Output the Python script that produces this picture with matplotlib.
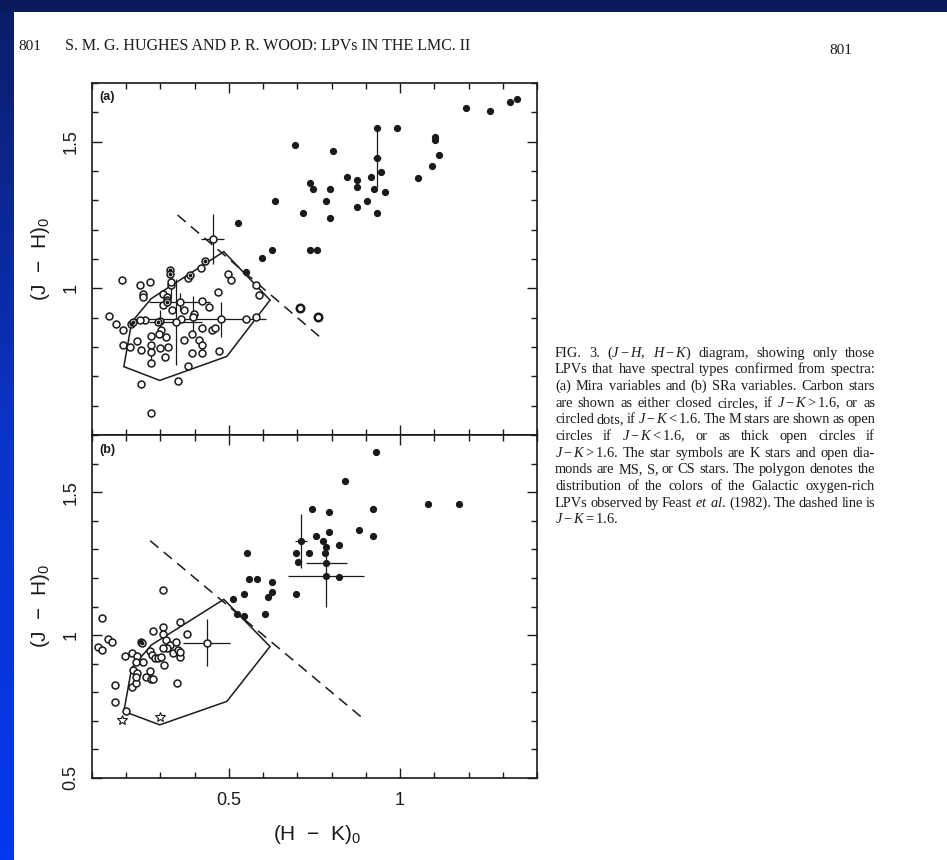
import numpy as np
import matplotlib
matplotlib.use("Agg")
import matplotlib.pyplot as plt
from matplotlib.colors import LinearSegmentedColormap
from matplotlib.patches import Polygon, Rectangle
from matplotlib.ticker import FixedLocator, MultipleLocator

plt.rcParams.update({
    "font.family": ["Liberation Sans", "DejaVu Sans"],
    "mathtext.fontset": "custom",
    "mathtext.rm": "Liberation Serif",
    "mathtext.it": "Liberation Serif:italic",
    "mathtext.sf": "Liberation Sans",
})

W, H = 947, 860
ink = "#1a1a1a"

# ---- panel (a): Mira variables ----
a_open_hk = [0.188, 0.240, 0.269, 0.249, 0.249, 0.306, 0.319, 0.319, 0.332, 0.379,
             0.419, 0.468, 0.497, 0.507, 0.579, 0.588, 0.150, 0.171, 0.190, 0.191,
             0.210, 0.232, 0.242, 0.271, 0.271, 0.272, 0.242, 0.272, 0.351, 0.381,
             0.312, 0.300, 0.317, 0.322, 0.303, 0.295, 0.370, 0.370, 0.393, 0.422,
             0.392, 0.414, 0.422, 0.422, 0.441, 0.451, 0.460, 0.470, 0.421, 0.399,
             0.361, 0.254, 0.240, 0.306, 0.335, 0.550, 0.579]
a_open_jh = [1.030, 1.013, 1.020, 0.982, 0.971, 0.982, 0.971, 0.959, 1.011, 1.035,
             1.068, 0.988, 1.050, 1.028, 1.011, 0.976, 0.907, 0.877, 0.857, 0.808,
             0.800, 0.819, 0.789, 0.837, 0.806, 0.745, 0.675, 0.575, 0.684, 0.735,
             0.766, 0.798, 0.834, 0.800, 0.857, 0.846, 0.925, 0.825, 0.778, 0.778,
             0.846, 0.823, 0.806, 0.865, 0.937, 0.857, 0.865, 0.786, 0.956, 0.914,
             0.897, 0.891, 0.893, 0.942, 0.925, 0.895, 0.902]
a_dot_hk = [0.327, 0.329, 0.431, 0.385, 0.213, 0.220, 0.293, 0.319]
a_dot_jh = [1.062, 1.050, 1.094, 1.045, 0.880, 0.885, 0.885, 0.954]
a_closed_hk = [0.693, 1.194, 1.263, 1.322, 1.341, 0.992, 1.102, 1.102, 1.115, 1.094,
               1.053, 0.804, 0.736, 0.745, 0.716, 0.785, 0.796, 0.796, 0.844, 0.874,
               0.874, 0.875, 0.903, 0.914, 0.924, 0.944, 0.955, 0.934, 0.736, 0.757,
               0.636, 0.526, 0.626, 0.596, 0.550, 0.933]
a_closed_jh = [1.488, 1.616, 1.604, 1.634, 1.644, 1.545, 1.517, 1.505, 1.455, 1.417,
               1.377, 1.468, 1.360, 1.338, 1.257, 1.297, 1.338, 1.239, 1.378, 1.368,
               1.346, 1.277, 1.297, 1.378, 1.337, 1.397, 1.327, 1.256, 1.129, 1.129,
               1.298, 1.222, 1.130, 1.102, 1.056, 1.545]
a_thick_hk = [0.707, 0.759]
a_thick_jh = [0.934, 0.903]
# error bars: open-circle stars, then one carbon star
a_err_hk = [0.477, 0.344, 0.356, 0.332, 0.394, 0.273, 0.298, 0.453]
a_err_jh = [0.895, 0.885, 0.954, 1.020, 0.903, 0.782, 0.888, 1.167]
a_err_xlo = [0.258, 0.077, 0.090, 0.0, 0.0, 0.0, 0.0, 0.034]
a_err_xhi = [0.131, 0.077, 0.090, 0.0, 0.0, 0.0, 0.0, 0.034]
a_err_y = [0.060, 0.148, 0.030, 0.054, 0.070, 0.030, 0.037, 0.085]
a_cerr_hk = [0.933]
a_cerr_jh = [1.446]
a_cerr_x = [0.012]
a_cerr_y = [0.100]

# ---- panel (b): SRa variables ----
b_open_hk = [0.307, 0.128, 0.147, 0.157, 0.118, 0.128, 0.196, 0.218, 0.230, 0.228,
             0.220, 0.230, 0.249, 0.167, 0.167, 0.199, 0.218, 0.228, 0.228, 0.259,
             0.271, 0.278, 0.269, 0.269, 0.278, 0.307, 0.307, 0.356, 0.377, 0.317,
             0.327, 0.319, 0.346, 0.306, 0.336, 0.351, 0.358, 0.356, 0.274, 0.283,
             0.293, 0.303, 0.309, 0.348]
b_open_jh = [1.158, 1.059, 0.987, 0.977, 0.960, 0.948, 0.927, 0.939, 0.927, 0.907,
             0.878, 0.867, 0.907, 0.826, 0.765, 0.736, 0.820, 0.832, 0.855, 0.855,
             0.846, 0.846, 0.876, 0.946, 1.016, 1.027, 1.004, 1.045, 1.004, 0.983,
             0.966, 0.954, 0.977, 0.954, 0.939, 0.948, 0.925, 0.942, 0.931, 0.919,
             0.919, 0.925, 0.895, 0.834]
b_dot_hk = [0.244, 0.247]
b_dot_jh = [0.977, 0.972]
b_closed_hk = [0.929, 0.840, 1.081, 1.172, 0.742, 0.792, 0.920, 0.881, 0.922, 0.792,
               0.753, 0.774, 0.784, 0.823, 0.695, 0.734, 0.780, 0.703, 0.823, 0.559,
               0.583, 0.625, 0.625, 0.615, 0.695, 0.605, 0.553, 0.544, 0.513, 0.525,
               0.545]
b_closed_jh = [1.640, 1.540, 1.459, 1.459, 1.441, 1.432, 1.440, 1.368, 1.346, 1.359,
               1.348, 1.329, 1.307, 1.315, 1.286, 1.286, 1.286, 1.255, 1.202, 1.195,
               1.195, 1.184, 1.152, 1.134, 1.144, 1.073, 1.287, 1.144, 1.127, 1.073,
               1.066]
b_star_hk = [0.188, 0.300]
b_star_jh = [0.703, 0.715]
b_err_hk = [0.435]
b_err_jh = [0.974]
b_err_x = [0.069]
b_err_y = [0.082]
b_cerr_hk = [0.710, 0.784, 0.784]
b_cerr_jh = [1.329, 1.252, 1.208]
b_cerr_x = [0.017, 0.060, 0.110]
b_cerr_y = [0.095, 0.0, 0.108]

# Galactic oxygen-rich LPV region (Feast et al. 1982)
poly_hk = [0.193, 0.216, 0.273, 0.485, 0.620, 0.494, 0.298]
poly_jh = [0.733, 0.885, 0.965, 1.125, 0.960, 0.768, 0.686]
# J - K = 1.6 line, drawn over this H - K range in each panel
dash_a_hk = np.array([0.35, 0.77])
dash_b_hk = np.array([0.27, 0.90])

caption = [
    "FIG. 3. ($J-H$, $H-K$) diagram, showing only those",
    "LPVs that have spectral types confirmed from spectra:",
    "(a) Mira variables and (b) SRa variables. Carbon stars",
    "are shown as either closed circles, if $J-K>1.6$, or as",
    "circled dots, if $J-K<1.6$. The M stars are shown as open",
    "circles if $J-K<1.6$, or as thick open circles if",
    "$J-K>1.6$. The star symbols are K stars and open dia-",
    "monds are MS, S, or CS stars. The polygon denotes the",
    "distribution of the colors of the Galactic oxygen-rich",
    "LPVs observed by Feast $et$ $al.$ (1982). The dashed line is",
    "$J-K=1.6$.",
]


def fx(px):
    return px / W


def fy(py):
    return 1 - py / H


fig = plt.figure(figsize=(W / 100, H / 100), dpi=100, facecolor="white")

# blue slide frame: left strip with a gradient and a dark bar on top
strip = fig.add_axes([0, 0, fx(13), 1])
slide_cmap = LinearSegmentedColormap.from_list("slide", ["#0b1d66", "#0a33c8", "#0338ee"])
strip.imshow(np.linspace(0, 1, 256)[:, None], aspect="auto", cmap=slide_cmap)
strip.axis("off")
fig.add_artist(Rectangle((0, fy(12)), 1, 12 / H, transform=fig.transFigure,
                         facecolor="#0a1b5c", edgecolor="none"))

# running head
serif = ["Liberation Serif", "DejaVu Serif"]
fig.text(fx(18), fy(50), "801", family=serif, fontsize=11, color=ink)
fig.text(fx(65), fy(50), "S. M. G. HUGHES AND P. R. WOOD: LPVs IN THE LMC. II",
         family=serif, fontsize=11.5, color=ink)
fig.text(fx(852), fy(54), "801", family=serif, fontsize=11, color=ink, ha="right")

ax_a = fig.add_axes([fx(92), fy(435), (537 - 92) / W, (435 - 83) / H])
ax_b = fig.add_axes([fx(92), fy(778), (537 - 92) / W, (778 - 435) / H])


def setup_panel(ax, ylabels, show_x):
    ax.set_xlim(0.1, 1.4)
    ax.set_ylim(0.5, 1.7)
    ax.xaxis.set_major_locator(FixedLocator([0.5, 1.0]))
    ax.xaxis.set_minor_locator(MultipleLocator(0.1))
    ax.yaxis.set_major_locator(FixedLocator([0.5, 1.0, 1.5]))
    ax.yaxis.set_minor_locator(MultipleLocator(0.1))
    ax.tick_params(which="both", direction="in", top=True, right=True,
                   color=ink, width=1.0, labelsize=13, labelcolor=ink)
    ax.tick_params(which="major", length=7)
    ax.tick_params(which="minor", length=4)
    ax.tick_params(axis="y", pad=9)
    ax.tick_params(axis="x", pad=10)
    ax.set_yticks([0.5, 1.0, 1.5], ylabels, rotation=90, va="center")
    if show_x:
        ax.set_xticks([0.5, 1.0], ["0.5", "1"])
    else:
        ax.set_xticklabels([])
    for s in ax.spines.values():
        s.set_linewidth(1.2)
        s.set_color(ink)


def draw_common(ax, dash_hk):
    ax.add_patch(Polygon(np.column_stack([poly_hk, poly_jh]), closed=True,
                         fill=False, edgecolor=ink, linewidth=1.1, zorder=2))
    ax.plot(dash_hk, 1.6 - dash_hk, color=ink, lw=1.1, ls=(0, (7, 4.5)), zorder=2)


def open_pts(ax, x, y):
    ax.plot(x, y, "o", ms=5.0, mfc="white", mec=ink, mew=1.1, ls="none", zorder=4)


def closed_pts(ax, x, y):
    ax.plot(x, y, "o", ms=4.2, mfc=ink, mec=ink, ls="none", zorder=4)


def circled_dots(ax, x, y):
    open_pts(ax, x, y)
    ax.plot(x, y, "o", ms=1.8, mfc=ink, mec=ink, ls="none", zorder=5)


setup_panel(ax_a, ["", "1", "1.5"], False)
draw_common(ax_a, dash_a_hk)
ax_a.errorbar(a_err_hk, a_err_jh, xerr=[a_err_xlo, a_err_xhi], yerr=a_err_y, fmt="none",
              ecolor=ink, elinewidth=0.9, capsize=0, zorder=3)
ax_a.errorbar(a_cerr_hk, a_cerr_jh, xerr=a_cerr_x, yerr=a_cerr_y, fmt="none",
              ecolor=ink, elinewidth=0.9, capsize=0, zorder=3)
open_pts(ax_a, a_open_hk, a_open_jh)
open_pts(ax_a, a_err_hk, a_err_jh)
circled_dots(ax_a, a_dot_hk, a_dot_jh)
closed_pts(ax_a, a_closed_hk, a_closed_jh)
closed_pts(ax_a, a_cerr_hk, a_cerr_jh)
ax_a.plot(a_thick_hk, a_thick_jh, "o", ms=5.4, mfc="white", mec=ink, mew=1.8,
          ls="none", zorder=4)
ax_a.text(0.016, 0.96, "(a)", transform=ax_a.transAxes, fontsize=9,
          fontweight="bold", color=ink, va="center")

setup_panel(ax_b, ["0.5", "1", "1.5"], True)
draw_common(ax_b, dash_b_hk)
ax_b.errorbar(b_err_hk, b_err_jh, xerr=b_err_x, yerr=b_err_y, fmt="none",
              ecolor=ink, elinewidth=0.9, capsize=0, zorder=3)
ax_b.errorbar(b_cerr_hk, b_cerr_jh, xerr=b_cerr_x, yerr=b_cerr_y, fmt="none",
              ecolor=ink, elinewidth=0.9, capsize=0, zorder=3)
open_pts(ax_b, b_open_hk, b_open_jh)
open_pts(ax_b, b_err_hk, b_err_jh)
circled_dots(ax_b, b_dot_hk, b_dot_jh)
closed_pts(ax_b, b_closed_hk, b_closed_jh)
closed_pts(ax_b, b_cerr_hk, b_cerr_jh)
ax_b.plot(b_star_hk, b_star_jh, "*", ms=7.5, mfc="white", mec=ink, mew=0.8,
          ls="none", zorder=4)
ax_b.text(0.016, 0.956, "(b)", transform=ax_b.transAxes, fontsize=9,
          fontweight="bold", color=ink, va="center")

# axis titles
ylab = "(J  \u2212  H)$_\\mathsf{0}$"
fig.text(fx(40), fy(259), ylab, rotation=90, ha="center", va="center",
         fontsize=15, color=ink)
fig.text(fx(40), fy(606), ylab, rotation=90, ha="center", va="center",
         fontsize=15, color=ink)
fig.text(fx(317), fy(835), "(H  \u2212  K)$_\\mathsf{0}$", ha="center", va="center",
         fontsize=15, color=ink)

# justified caption block
renderer = fig.canvas.get_renderer()
cap_x0, cap_x1 = 555, 875
for i, line in enumerate(caption):
    words = line.split(" ")
    base = fy(356.7 + i * 16.67)
    texts = [fig.text(0, base, w, family=serif, fontsize=10.4, color=ink,
                      va="baseline") for w in words]
    widths = [t.get_window_extent(renderer).width for t in texts]
    if i < len(caption) - 1 and len(words) > 1:
        gap = (cap_x1 - cap_x0 - sum(widths)) / (len(words) - 1)
    else:
        gap = 3.4
    x = cap_x0
    for t, w in zip(texts, widths):
        t.set_x(fx(x))
        x += w + gap

fig.savefig("out.png", dpi=100, facecolor="white")
